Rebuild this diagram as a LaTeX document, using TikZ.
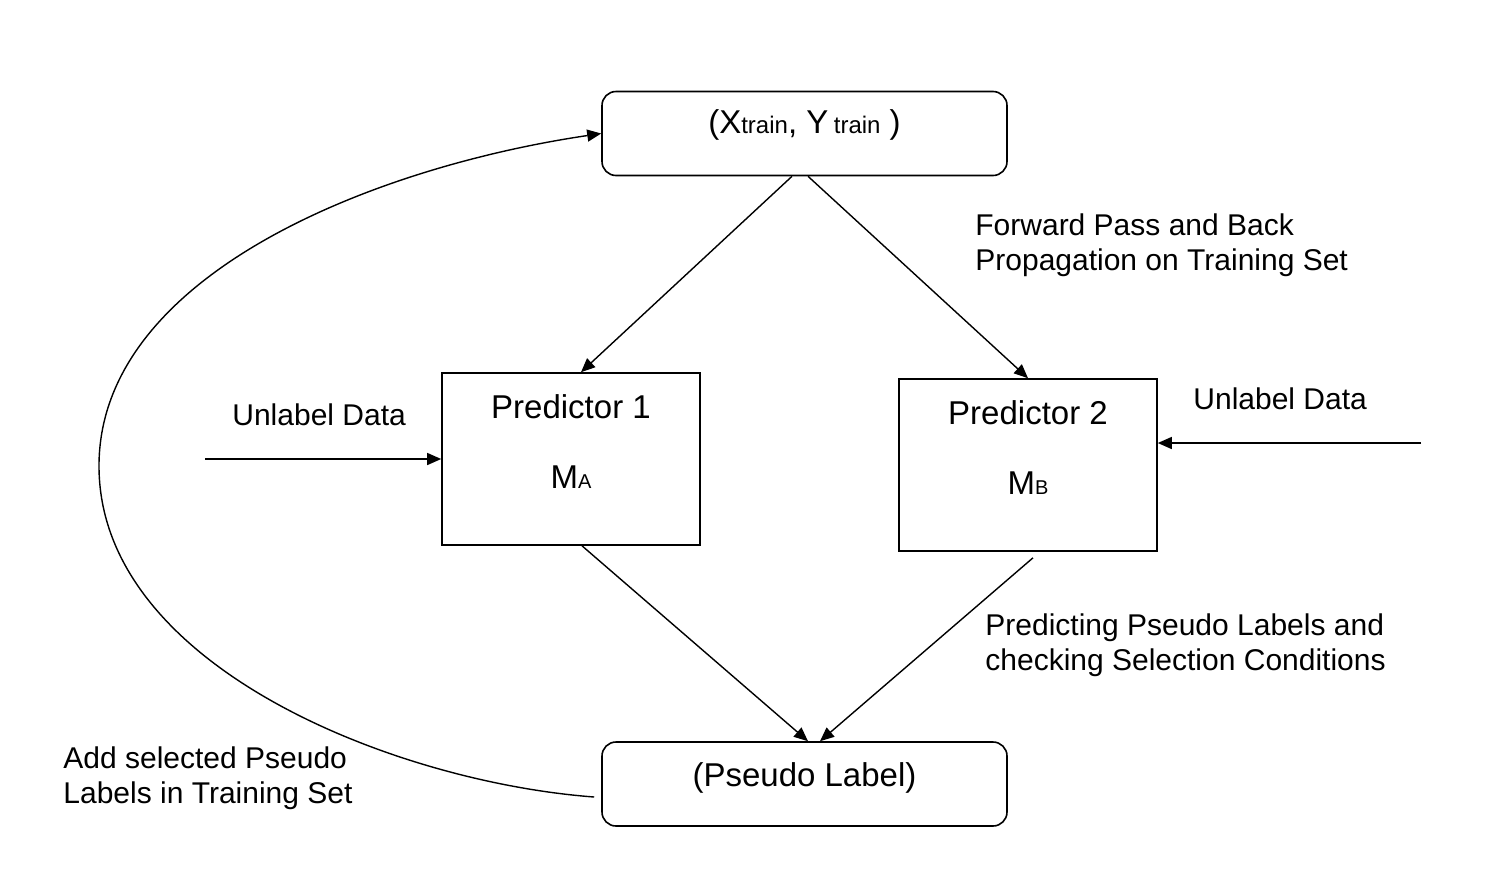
\documentclass[tikz,border=0pt]{standalone}
\usepackage{fontspec}
\setmainfont{Liberation Sans}
\usepackage{tikz}
\usetikzlibrary{calc,arrows.meta}

\newcommand{\boxfont}{\fontsize{16.5}{19}\selectfont}
\newcommand{\notefont}{\fontsize{15}{17.5}\selectfont}
\newcommand{\lowtxt}[2][12]{{\fontsize{#1}{#1}\selectfont #2}}

\tikzset{
  roundbox/.style={draw, rounded corners=7pt, line width=0.8pt, minimum width=202.5pt, minimum height=42pt, font=\boxfont},
  predbox/.style={draw, line width=0.8pt, minimum width=129pt, minimum height=86pt, font=\boxfont, text height=12pt, text depth=53pt},
  note/.style={align=left, inner sep=0pt, anchor=north west, font=\notefont},
  flow/.style={->, line width=0.7pt},
}

\begin{document}
\begin{tikzpicture}[x=0.5pt,y=-0.5pt,>={Triangle[length=7pt,width=6pt]}]
\useasboundingbox (0,0) rectangle (1502,868);

% training set and pseudo label boxes
\node (train) [roundbox, text height=12pt, text depth=12pt] at (804.5,133.5) {(X\lowtxt{train}, Y\,\lowtxt{train} )};
\node (pseudo) [roundbox, text height=12pt, text depth=10pt] at (804.5,784) {(Pseudo Label)};

% the two predictors
\node (pred1) [predbox, label={[font=\boxfont, text height=12pt, text depth=0pt, yshift=-8.5pt]center:M\lowtxt[10]{A}}] at (571,459) {Predictor 1};
\node (pred2) [predbox, label={[font=\boxfont, text height=12pt, text depth=0pt, yshift=-8.5pt]center:M\lowtxt[10]{B}}] at (1028,465) {Predictor 2};

% training arrows
\draw[flow] ([xshift=-6.25pt]train.south) -- ([xshift=5pt]pred1.north);
\draw[flow] ([xshift=1.75pt]train.south) -- (pred2.north);

% prediction arrows
\draw[flow] ([xshift=5.5pt]pred1.south) -- ([xshift=1.75pt]pseudo.north);
\draw[flow] ([xshift=2.5pt,yshift=-3pt]pred2.south) -- ([xshift=7.75pt]pseudo.north);

% unlabelled inputs
\coordinate (inA) at (205,459);
\coordinate (inB) at (1421,443);
\draw[flow] (inA) -- (inA -| pred1.west);
\draw[flow] (inB) -- (inB -| pred2.east);
\node (unlA) [anchor=base west, inner sep=0pt, font=\notefont] at (232,425) {Unlabel Data};
\node (unlB) [anchor=base west, inner sep=0pt, font=\notefont] at (1193,409) {Unlabel Data};

% loop back to the training set
\coordinate (loopleft) at (99,466);
\draw[flow] ($(pseudo.west)+(-7,13)$) .. controls +(-200,-15) and +(0,200) .. (loopleft)
  .. controls +(0,-190) and +(-230,34) .. (train.west);

% text annotations
\node (fwdnote) [note] at (975,213) {Forward Pass and Back\\Propagation on Training Set};
\node (prednote) [note] at (985,613) {Predicting Pseudo Labels and\\checking Selection Conditions};
\node (addnote) [note] at (63,746) {Add selected Pseudo\\Labels in Training Set};
\end{tikzpicture}
\end{document}
